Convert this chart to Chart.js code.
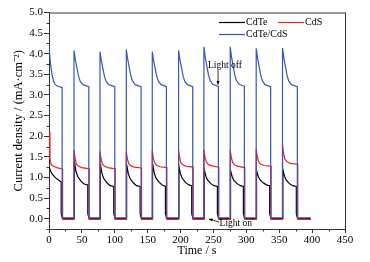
<!DOCTYPE html>
<html><head><meta charset="utf-8">
<script src="https://cdn.jsdelivr.net/npm/chart.js@4/dist/chart.umd.min.js"></script>
<style>html,body{margin:0;padding:0;background:#fff}#wrap{width:370px;height:262px}</style>
</head><body><div id="wrap"><canvas id="c" width="370" height="262"></canvas></div>
<script>
// ---- data ----
const seriesNames = ['CdTe', 'CdS', 'CdTe/CdS'];
const xTicks = [0, 50, 100, 150, 200, 250, 300, 350, 400, 450];
const yTicks = [0.0, 0.5, 1.0, 1.5, 2.0, 2.5, 3.0, 3.5, 4.0, 4.5, 5.0];

// light on / light off times (s)
const cycleOn  = [0, 38, 77.5, 117.5, 157, 197, 235.5, 275.5, 315, 355];
const cycleOff = [20, 60.5, 100, 140, 178.5, 218.5, 257.5, 297, 337, 377.5];
const traceEnd = 398;

// CdTe/CdS : sample times after light on, values per cycle (last value = just before light off)
const heteroDt = [0, 2, 4.5, 7, 9.5, 13.5];
const heteroVals = [
  [4.20, 3.80, 3.50, 3.33, 3.25, 3.21, 3.18],
  [4.08, 3.86, 3.66, 3.45, 3.33, 3.25, 3.20],
  [4.05, 3.84, 3.64, 3.44, 3.33, 3.25, 3.20],
  [4.10, 3.88, 3.67, 3.46, 3.34, 3.25, 3.20],
  [4.05, 3.84, 3.64, 3.44, 3.33, 3.25, 3.20],
  [4.08, 3.86, 3.66, 3.45, 3.33, 3.25, 3.20],
  [4.17, 3.92, 3.70, 3.48, 3.35, 3.26, 3.21],
  [4.17, 3.92, 3.70, 3.48, 3.35, 3.26, 3.21],
  [4.13, 3.90, 3.68, 3.47, 3.34, 3.25, 3.20],
  [4.14, 3.90, 3.68, 3.47, 3.34, 3.25, 3.20]
];
const heteroDark = 0.02;

// CdS
const cdsDt = [0, 1.5, 3.5, 7, 12];
const cdsVals = [
  [2.10, 1.45, 1.30, 1.27, 1.24, 1.20],
  [1.67, 1.48, 1.33, 1.27, 1.24, 1.21],
  [1.63, 1.46, 1.33, 1.27, 1.24, 1.21],
  [1.63, 1.47, 1.34, 1.28, 1.25, 1.23],
  [1.65, 1.48, 1.35, 1.29, 1.26, 1.24],
  [1.66, 1.49, 1.36, 1.30, 1.27, 1.25],
  [1.67, 1.50, 1.38, 1.31, 1.28, 1.25],
  [1.67, 1.50, 1.37, 1.30, 1.27, 1.24],
  [1.69, 1.52, 1.39, 1.32, 1.29, 1.27],
  [1.80, 1.60, 1.45, 1.38, 1.34, 1.32]
];
const cdsDark = -0.02;
const cdsOffLag = 0.7;

// CdTe
const cdteDt = [0, 2.5, 5, 10, 15];
const cdteVals = [
  [1.27, 1.15, 1.08, 0.99, 0.93, 0.89],
  [1.41, 1.15, 1.03, 0.91, 0.84, 0.82],
  [1.33, 1.10, 0.98, 0.87, 0.80, 0.78],
  [1.32, 1.10, 0.98, 0.87, 0.80, 0.78],
  [1.33, 1.11, 0.99, 0.88, 0.81, 0.79],
  [1.27, 1.08, 0.98, 0.88, 0.82, 0.80],
  [1.19, 1.03, 0.94, 0.85, 0.80, 0.78],
  [1.17, 1.02, 0.93, 0.85, 0.80, 0.78],
  [1.17, 1.03, 0.95, 0.87, 0.82, 0.80],
  [1.19, 1.03, 0.94, 0.85, 0.80, 0.78]
];
const cdteDark = 0.0;
const cdteOnLag = 0.5;
const cdteOffLag = -1.5;
const cdteFallDt = [0, 2];
const cdteFallV = [0.12, 0.0];

// ---- build traces ----
function buildTrace(dt, vals, dark, onLag, offLag, fallDt, fallV) {
  const pts = [];
  for (let i = 0; i < cycleOn.length; i++) {
    const on = i === 0 ? cycleOn[i] : cycleOn[i] + onLag;
    const off = cycleOff[i] + offLag;
    const v = vals[i];
    if (i > 0) pts.push({x: on, y: dark});
    for (let k = 0; k < dt.length; k++) pts.push({x: on + dt[k], y: v[k]});
    pts.push({x: off, y: v[dt.length]});
    if (fallDt) { for (let k = 0; k < fallDt.length; k++) pts.push({x: off + fallDt[k], y: fallV[k]}); }
    else pts.push({x: off, y: dark});
  }
  pts.push({x: traceEnd, y: dark});
  return pts;
}
const cdtePts = buildTrace(cdteDt, cdteVals, cdteDark, cdteOnLag, cdteOffLag, cdteFallDt, cdteFallV);
const cdsPts = buildTrace(cdsDt, cdsVals, cdsDark, 0, cdsOffLag, null, null);
const heteroPts = buildTrace(heteroDt, heteroVals, heteroDark, 0, 0, null, null);

const COLORS = ['#000000', '#ee2020', '#3557b7'];
const SERIF = "'Liberation Serif', 'Times New Roman', serif";

const decor = {
  id: 'decor',
  afterDraw(chart) {
    const ctx = chart.ctx, a = chart.chartArea, xs = chart.scales.x, ys = chart.scales.y;
    ctx.save();
    ctx.strokeStyle = '#333'; ctx.lineWidth = 1;
    // frame top/right
    ctx.beginPath();
    ctx.moveTo(a.left, a.top + 0.5); ctx.lineTo(a.right + 0.5, a.top + 0.5);
    ctx.moveTo(a.right + 0.5, a.top); ctx.lineTo(a.right + 0.5, a.bottom);
    ctx.stroke();
    // minor ticks
    ctx.beginPath();
    for (let i = 0; i < xTicks.length - 1; i++) {
      const px = Math.round(xs.getPixelForValue((xTicks[i] + xTicks[i + 1]) / 2)) + 0.5;
      ctx.moveTo(px, a.bottom); ctx.lineTo(px, a.bottom + 2.5);
    }
    const yMinorVals = [-0.25];
    for (let i = 0; i < yTicks.length - 1; i++) yMinorVals.push((yTicks[i] + yTicks[i + 1]) / 2);
    for (const v of yMinorVals) {
      const py = Math.round(ys.getPixelForValue(v)) + 0.5;
      ctx.moveTo(a.left, py); ctx.lineTo(a.left - 2.5, py);
    }
    ctx.stroke();
    // legend
    ctx.font = '10px ' + SERIF; ctx.textBaseline = 'middle'; ctx.fillStyle = '#000';
    const legendItems = [
      {i: 0, x: 219, y: 22.5}, {i: 1, x: 278, y: 22.5}, {i: 2, x: 219, y: 34.5}
    ];
    for (const it of legendItems) {
      ctx.strokeStyle = COLORS[it.i]; ctx.lineWidth = 1.2;
      ctx.beginPath(); ctx.moveTo(it.x, it.y); ctx.lineTo(it.x + 26, it.y); ctx.stroke();
      ctx.fillText(seriesNames[it.i], it.x + 27, it.y);
    }
    // annotations
    ctx.font = '9.5px ' + SERIF; ctx.textAlign = 'center'; ctx.fillStyle = '#000';
    ctx.fillText('Light off', xs.getPixelForValue(267.5), ys.getPixelForValue(3.71));
    ctx.fillText('Light on', xs.getPixelForValue(284), ys.getPixelForValue(-0.11));
    function arrow(x1, y1, x2, y2) {
      ctx.strokeStyle = '#000'; ctx.lineWidth = 0.8;
      ctx.beginPath(); ctx.moveTo(x1, y1); ctx.lineTo(x2, y2); ctx.stroke();
      const ang = Math.atan2(y2 - y1, x2 - x1), L = 4, W = 0.4;
      ctx.beginPath(); ctx.moveTo(x2, y2);
      ctx.lineTo(x2 - L * Math.cos(ang - W), y2 - L * Math.sin(ang - W));
      ctx.lineTo(x2 - L * Math.cos(ang + W), y2 - L * Math.sin(ang + W));
      ctx.closePath(); ctx.fillStyle = '#000'; ctx.fill();
    }
    arrow(xs.getPixelForValue(257), ys.getPixelForValue(3.6), xs.getPixelForValue(257), ys.getPixelForValue(3.25));
    arrow(xs.getPixelForValue(258.8), ys.getPixelForValue(-0.08), xs.getPixelForValue(243), ys.getPixelForValue(-0.01));
    ctx.restore();
  }
};

new Chart(document.getElementById('c'), {
  type: 'line',
  data: {
    datasets: [
      {label: seriesNames[0], data: cdtePts, order: 3, borderColor: COLORS[0], borderWidth: 1.2, pointRadius: 0, tension: 0, fill: false},
      {label: seriesNames[1], data: cdsPts, order: 2, borderColor: COLORS[1], borderWidth: 1.2, pointRadius: 0, tension: 0, fill: false},
      {label: seriesNames[2], data: heteroPts, order: 1, borderColor: COLORS[2], borderWidth: 1.2, pointRadius: 0, tension: 0, fill: false}
    ]
  },
  options: {
    responsive: false, animation: false, devicePixelRatio: 1,
    layout: {padding: {top: 12.5, right: 25, left: 0, bottom: 0}},
    plugins: {legend: {display: false}, tooltip: {enabled: false}},
    scales: {
      x: {
        type: 'linear', min: 0, max: 450,
        afterBuildTicks(s) { s.ticks = xTicks.map(v => ({value: v})); },
        ticks: {font: {family: SERIF, size: 11}, color: '#000', padding: 1, maxRotation: 0, autoSkip: false,
                callback: v => String(v)},
        grid: {display: true, drawOnChartArea: false, drawTicks: true, tickLength: 4, color: '#333'},
        border: {display: true, color: '#333', width: 1},
        title: {display: true, text: 'Time / s', font: {family: SERIF, size: 12}, color: '#000', padding: {top: 0, bottom: 4}},
        afterFit(s) { s.height = 33; }
      },
      y: {
        type: 'linear', min: -0.25, max: 5,
        afterBuildTicks(s) { s.ticks = yTicks.map(v => ({value: v})); },
        ticks: {font: {family: SERIF, size: 11}, color: '#000', padding: 1, autoSkip: false,
                callback: v => Number(v).toFixed(1)},
        grid: {display: true, drawOnChartArea: false, drawTicks: true, tickLength: 5, color: '#333'},
        border: {display: true, color: '#333', width: 1},
        title: {display: true, text: 'Current density / (mA·cm⁻²)', font: {family: SERIF, size: 12.5}, color: '#000', padding: {top: 11, bottom: 0}},
        afterFit(s) { s.width = 49; }
      }
    }
  },
  plugins: [decor]
});
</script></body></html>
